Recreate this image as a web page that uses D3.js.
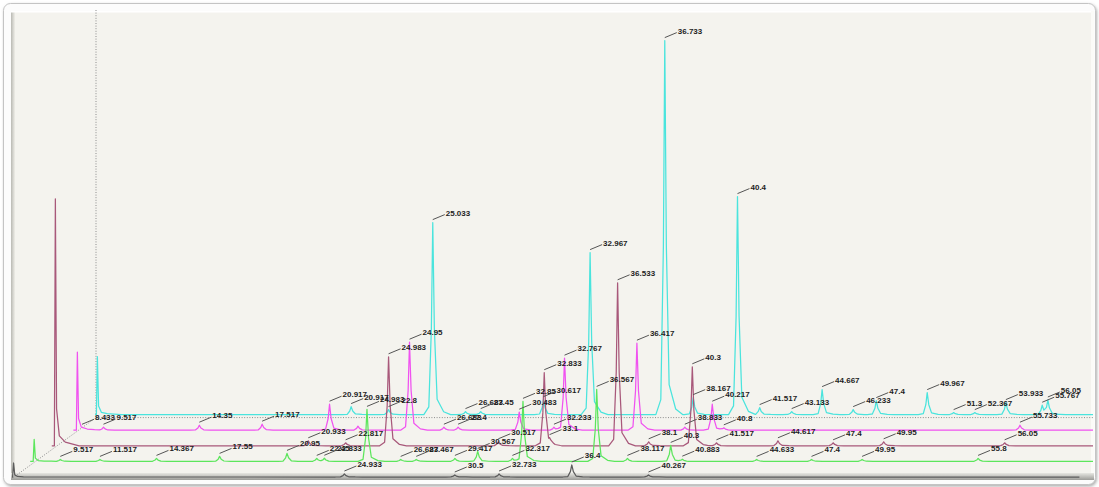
<!DOCTYPE html>
<html>
<head>
<meta charset="utf-8">
<script src="https://cdn.jsdelivr.net/npm/d3@7"></script>
<style>
  html, body { margin: 0; padding: 0; background: #ffffff; }
  svg { display: block; }
  .lbl { font-family: "Liberation Sans", Arial, sans-serif; font-size: 8px; font-weight: bold; fill: #1e1e1e; }
</style>
</head>
<body>
<div id="chart"></div>
<script>
// peaks: [retention time (min), height]
// runs are listed from front (gray) to back (cyan)
const grayPeaks = [[8.25,14],[24.933,3],[30.5,2],[32.733,3],[36.4,12],[40.267,2]];
const grayLabels = [24.933,30.5,32.733,36.4,40.267];

const greenPeaks = [[8.2,22],[9.517,2],[11.517,2],[14.367,3],[17.55,5],[20.95,8],[22.45,3],[22.833,3],
  [24.983,52],[26.683,2],[27.467,2],[29.417,3],[30.567,10],[32.317,3],[32.85,60],[36.567,72],
  [38.117,3],[40.3,16],[40.883,2],[44.633,2],[47.4,2],[49.95,2],[55.8,3]];
const greenLabels = [9.517,11.517,14.367,17.55,20.95,22.45,22.833,24.983,26.683,27.467,29.417,30.567,
  32.317,32.85,36.567,38.117,40.3,40.883,44.633,47.4,49.95,55.8];

const mauvePeaks = [[8.18,247],[20.933,5],[22.817,3],[24.983,89],[30.517,4],[32.833,73],[33.1,3],
  [36.533,163],[38.1,4],[40.3,79],[41.517,3],[44.617,5],[47.4,3],[49.95,4],[56.05,3]];
const mauveLabels = [20.933,22.817,24.983,30.517,32.833,33.1,36.533,38.1,40.3,41.517,44.617,47.4,49.95,56.05];

const magentaPeaks = [[8.2,78],[9.517,3],[14.35,5],[17.517,6],[20.917,26],[22.35,4],[24.95,88],
  [26.683,3],[27.4,3],[30.483,18],[32.233,3],[32.767,72],[36.417,87],[38.833,3],[40.217,26],
  [40.8,2],[55.733,5]];
const magentaLabels = [8.433,9.517,14.35,17.517,20.917,24.95,26.683,27.4,30.483,32.233,32.767,
  36.417,38.833,40.217,40.8,55.733];

const cyanPeaks = [[8.12,58],[20.917,8],[22.8,5],[25.033,192],[26.683,3],[27.45,3],[30.617,15],
  [32.967,162],[36.733,374],[38.167,17],[40.4,218],[41.517,7],[43.133,3],[44.667,25],[46.233,5],
  [47.4,14],[49.967,22],[51.3,2],[52.367,2],[53.933,12],[55.767,9],[56.05,14]];
const cyanLabels = [20.917,22.8,25.033,26.683,27.45,30.617,32.967,36.733,38.167,40.4,41.517,43.133,
  44.667,46.233,47.4,49.967,51.3,52.367,53.933,55.767,56.05];

const runs = [
  { peaks: grayPeaks, labels: grayLabels, color: "#5c5c5c" },
  { peaks: greenPeaks, labels: greenLabels, color: "#5ce65c" },
  { peaks: mauvePeaks, labels: mauveLabels, color: "#a8587a" },
  { peaks: magentaPeaks, labels: magentaLabels, color: "#f052f0" },
  { peaks: cyanPeaks, labels: cyanLabels, color: "#4ae4dd" }
];

const W = 1099, H = 487;
const timeStart = 8, timeEnd = 62;
const frontBase = 477;
const depthX = 21.6, depthY = -15.6;

const x = d3.scaleLinear().domain([timeStart, timeEnd]).range([8.6, 8.6 + 54 * 19.83]);
const y = d3.scaleLinear().domain([0, 400]).range([0, 400]);

// peak outline (offset in min, fraction of height)
const peakShape = d3.scaleLinear()
  .domain([-0.45, -0.2, -0.07, 0, 0.08, 0.22, 0.55, 0.9])
  .range([0, 0.04, 0.45, 1, 0.45, 0.08, 0.015, 0]).clamp(true);
const solventShape = d3.scaleLinear()
  .domain([-0.05, 0, 0.06, 0.2, 0.5, 1.2])
  .range([0, 1, 0.15, 0.04, 0.015, 0]).clamp(true);

function shapeOf(p){ return p[0] < 8.5 ? solventShape : peakShape; }
function level(peaks, t){
  return d3.sum(peaks, p => p[1] * shapeOf(p)(t - p[0]));
}

const svg = d3.select("#chart").append("svg").attr("width", W).attr("height", H);
const defs = svg.append("defs");

let shadow = defs.append("filter").attr("id", "shadow")
  .attr("x", "-2%").attr("y", "-2%").attr("width", "104%").attr("height", "106%");
shadow.append("feDropShadow").attr("dx", 1).attr("dy", 1.5).attr("stdDeviation", 1.6)
  .attr("flood-color", "#8a8a8a").attr("flood-opacity", 0.7);

let gb = defs.append("linearGradient").attr("id", "bottomBevel").attr("x1", 0).attr("x2", 0).attr("y1", 0).attr("y2", 1);
gb.append("stop").attr("offset", "0%").attr("stop-color", "#e6e6e1");
gb.append("stop").attr("offset", "100%").attr("stop-color", "#9c9c98");
let gl = defs.append("linearGradient").attr("id", "leftBevel");
gl.append("stop").attr("offset", "0%").attr("stop-color", "#b9b9b3");
gl.append("stop").attr("offset", "100%").attr("stop-color", "#efeee8");

defs.append("clipPath").attr("id", "plotClip")
  .append("rect").attr("x", 12).attr("y", 10).attr("width", 1081).attr("height", 470);

// panel and plot area
svg.append("rect").attr("x", 3.5).attr("y", 3.5).attr("width", 1092).attr("height", 481)
  .attr("rx", 7).attr("fill", "#fcfcfc").attr("stroke", "#c4c4c4").attr("filter", "url(#shadow)");
svg.append("rect").attr("x", 11).attr("y", 11).attr("width", 1083).attr("height", 469)
  .attr("fill", "#f4f3ee");
svg.append("rect").attr("x", 11).attr("y", 11).attr("width", 4).attr("height", 469)
  .attr("fill", "url(#leftBevel)");
svg.append("rect").attr("x", 11).attr("y", 11).attr("width", 1083).attr("height", 1.5)
  .attr("fill", "#ffffff");
svg.append("rect").attr("x", 1091).attr("y", 11).attr("width", 3).attr("height", 469)
  .attr("fill", "#fbfbf8");
svg.append("rect").attr("x", 11).attr("y", 473).attr("width", 1083).attr("height", 7)
  .attr("fill", "url(#bottomBevel)");

const plot = svg.append("g").attr("clip-path", "url(#plotClip)");

// 3D frame: depth axis, back wall and back floor
const backX = x(timeStart) + 4 * depthX + 1;
const backFloor = frontBase + 4 * depthY + 3;
const dotted = { stroke: "#8c8c8c", "stroke-width": 1, "stroke-dasharray": "1,1.6", fill: "none" };
function dottedLine(x1, y1, x2, y2){
  let l = plot.append("line").attr("x1", x1).attr("y1", y1).attr("x2", x2).attr("y2", y2);
  Object.entries(dotted).forEach(([k, v]) => l.attr(k, v));
}
dottedLine(x(timeStart) + 4, frontBase + 1, backX, backFloor);
dottedLine(backX, 10, backX, backFloor);
dottedLine(backX, backFloor, 1093, backFloor);

// traces, back to front
const order = d3.range(runs.length).reverse();
order.forEach(i => {
  const run = runs[i];
  const ox = i * depthX, base = frontBase + i * depthY;
  let knots = [timeStart, timeEnd];
  run.peaks.forEach(p => shapeOf(p).domain().forEach(o => knots.push(p[0] + o)));
  knots = Array.from(new Set(knots.map(t => +t.toFixed(4)))).sort((a, b) => a - b)
    .filter(t => t >= timeStart && t <= timeEnd);
  const pts = knots.map(t => [t, level(run.peaks, t)]);
  const line = d3.line().x(d => x(d[0]) + ox).y(d => base - y(d[1]));
  plot.append("path").attr("d", line(pts)).attr("fill", "none")
    .attr("stroke", run.color).attr("stroke-width", 1.25).attr("stroke-linejoin", "round");
});

// peak labels with leaders
const labelG = svg.append("g");
order.forEach(i => {
  const run = runs[i];
  const ox = i * depthX, base = frontBase + i * depthY;
  run.labels.forEach(t => {
    const xp = x(t) + ox;
    const ya = base - y(level(run.peaks, t));
    labelG.append("line")
      .attr("x1", xp).attr("y1", ya - 3).attr("x2", xp + 12).attr("y2", ya - 8)
      .attr("stroke", "#555").attr("stroke-width", 1);
    labelG.append("text").attr("class", "lbl")
      .attr("x", xp + 13).attr("y", ya - 7)
      .text(String(t));
  });
});
</script>
</body>
</html>
